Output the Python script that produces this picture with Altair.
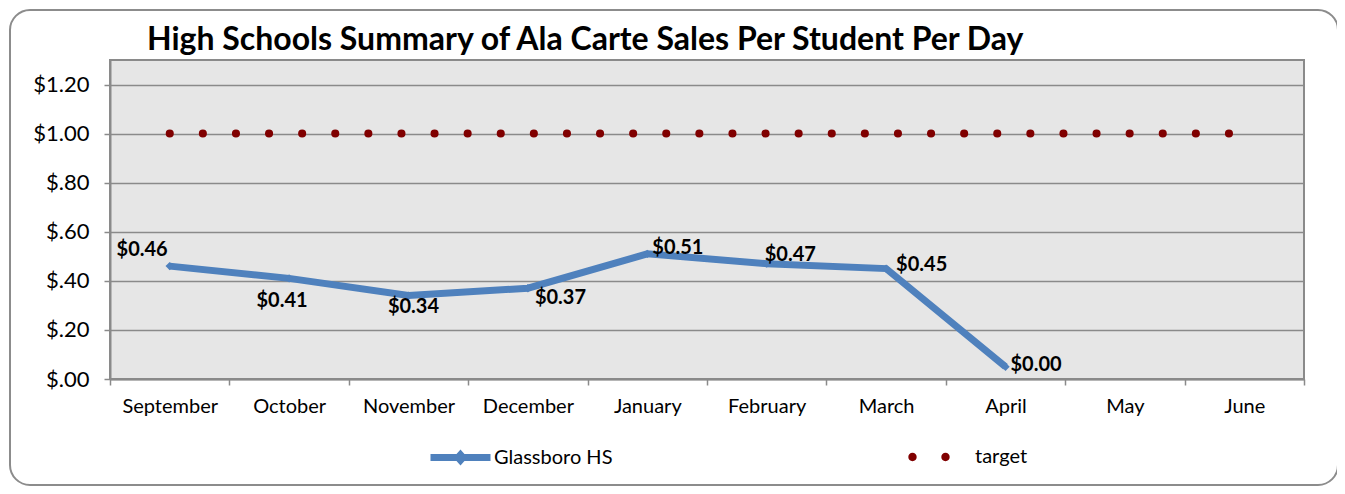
import altair as alt
import pandas as pd

FONT = "Lato"

months = ["September", "October", "November", "December", "January",
          "February", "March", "April", "May", "June"]
glassboro_months = months[:8]
glassboro_values = [0.46, 0.41, 0.34, 0.37, 0.51, 0.47, 0.45, 0.05]
glassboro_labels = ["$0.46", "$0.41", "$0.34", "$0.37", "$0.51", "$0.47", "$0.45", "$0.00"]
target_values = [1.0] * 10
y_ticks = [0.0, 0.2, 0.4, 0.6, 0.8, 1.0, 1.2]
BLUE = "#4F81BD"
RED = "#800000"
GRID = "#8a8a8a"

gb = pd.DataFrame({"month": glassboro_months, "value": glassboro_values,
                   "label": glassboro_labels, "series": "Glassboro HS"})
tg = pd.DataFrame({"month": months, "value": target_values, "tseries": "target"})

xenc = alt.X("month:N", sort=months, bandPosition=0.5,
             scale=alt.Scale(type="band", domain=months, paddingInner=0, paddingOuter=0),
             axis=alt.Axis(title=None, labelAngle=0, tickBand="extent", grid=False,
                           domainColor=GRID, domainWidth=2, tickColor=GRID,
                           tickWidth=1.5, tickSize=6, labelFont=FONT, labelFontSize=20,
                           labelColor="black", labelPadding=11))
yenc = alt.Y("value:Q", scale=alt.Scale(domain=[0, 1.3], nice=False, zero=True),
             axis=alt.Axis(title=None, values=y_ticks, grid=True, gridColor=GRID,
                           gridWidth=1.5, domainColor=GRID, domainWidth=2,
                           tickColor=GRID, tickWidth=1.5, tickSize=6,
                           labelFont=FONT, labelFontSize=22, labelColor="black",
                           labelPadding=15,
                           labelExpr="datum.value < 1 ? '$' + slice(format(datum.value, '.2f'), 1) : '$' + format(datum.value, '.2f')"))

GB_PATH = "M-1,0L1,0 M0,-0.09L0.08,0L0,0.09L-0.08,0Z"
TG_PATH = ("M-0.69,0A0.14,0.14 0 1,1 -0.41,0A0.14,0.14 0 1,1 -0.69,0Z "
           "M0.41,0A0.14,0.14 0 1,1 0.69,0A0.14,0.14 0 1,1 0.41,0Z")

gb_legend = alt.Legend(
    orient="none", legendX=317, legendY=364, title=None,
    labelFont=FONT, labelFontSize=20, labelColor="black", symbolSize=3600,
    symbolType=GB_PATH, symbolStrokeWidth=7, symbolFillColor=BLUE, symbolOpacity=1,
    labelOffset=0)
tg_legend = alt.Legend(
    orient="none", legendX=789, legendY=367, title=None,
    labelFont=FONT, labelFontSize=20, labelColor="black", symbolSize=3600,
    symbolType=TG_PATH, symbolStrokeWidth=0, symbolFillColor=RED, symbolOpacity=1,
    labelOffset=16)

border = alt.Chart(pd.DataFrame({"a": [0]})).mark_rect(
    fillOpacity=0, stroke="#8c8c8c", strokeWidth=2, cornerRadius=20
).encode(x=alt.value(-100), x2=alt.value(1228), y=alt.value(-50), y2=alt.value(425))

target = alt.Chart(tg).mark_line(strokeWidth=8, strokeCap="round", color=RED).encode(
    x=xenc, y=yenc,
    strokeDash=alt.StrokeDash("tseries:N", scale=alt.Scale(domain=["target"], range=[[0.1, 33]]),
                              legend=tg_legend))

line = alt.Chart(gb).mark_line(strokeWidth=7).encode(
    x=xenc, y=yenc,
    color=alt.Color("series:N", scale=alt.Scale(domain=["Glassboro HS"], range=[BLUE]),
                    legend=gb_legend))
pts = alt.Chart(gb).mark_point(shape="diamond", filled=True, size=70, opacity=1,
                               color=BLUE).encode(x=xenc, y=yenc)

# label placement per month: (align, dx, dy)
placement = {
    "September": ("right", -2, -16),
    "October": ("center", -7, 23),
    "November": ("center", 5, 11),
    "December": ("left", 7, 10),
    "January": ("left", 5, -6),
    "February": ("left", -2, -9),
    "March": ("left", 10, -4),
    "April": ("left", 5, -2),
}

label_layers = []
for m, (al, ddx, ddy) in placement.items():
    label_layers.append(
        alt.Chart(gb).transform_filter(alt.datum.month == m).mark_text(
            font=FONT, fontSize=20, fontWeight="bold", color="black",
            align=al, baseline="middle", dx=ddx, dy=ddy
        ).encode(x=xenc, y=yenc, text="label:N"))

chart = alt.layer(border, target, line, pts, *label_layers).properties(
    width=1194, height=319,
    title=alt.Title("High Schools Summary of Ala Carte Sales Per Student Per Day",
                    anchor="start", dx=138, dy=54, fontSize=32, fontWeight="bold", font=FONT,
                    color="black", offset=6),
    padding={"left": 102, "top": 52, "right": 33, "bottom": 107},
    autosize="none",
    background="white",
).configure_view(fill="#e6e6e6", stroke=GRID, strokeWidth=2)

chart.save("out.html", embed_options={"renderer": "svg", "actions": False})
